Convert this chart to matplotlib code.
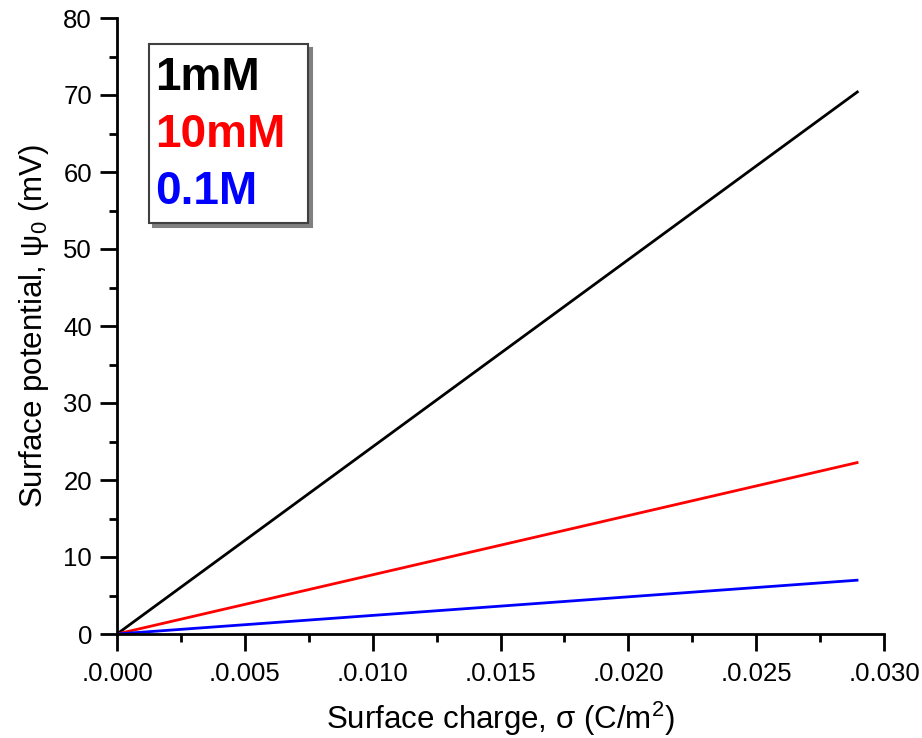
import matplotlib
matplotlib.use("Agg")
import matplotlib.pyplot as plt
from matplotlib.patches import Rectangle
from matplotlib.ticker import MultipleLocator, FuncFormatter

# surface charge (C/m^2) and resulting surface potential (mV)
sigma = [0.0, 0.029]
psi_1mM = [0.0, 70.5]
psi_10mM = [0.0, 22.3]
psi_01M = [0.0, 7.0]

labels = ["1mM", "10mM", "0.1M"]
colors = ["black", "red", "blue"]

plt.rcParams['font.family'] = ['Liberation Sans', 'DejaVu Sans']
plt.rcParams['mathtext.fontset'] = 'custom'
plt.rcParams['mathtext.rm'] = 'Liberation Sans'
plt.rcParams['mathtext.default'] = 'regular'

W, H = 922, 738
fig = plt.figure(figsize=(W / 100, H / 100), dpi=100)
ax = fig.add_axes([117 / W, 1 - 634 / H, (884 - 117) / W, (634 - 18) / H])

lines = []
for ys, c, lab in zip([psi_1mM, psi_10mM, psi_01M], colors, labels):
    ln, = ax.plot(sigma, ys, color=c, lw=2, label=lab, solid_capstyle='butt')
    lines.append(ln)

ax.set_xlim(0, 0.030)
ax.set_ylim(0, 80)
ax.xaxis.set_major_locator(MultipleLocator(0.005))
ax.xaxis.set_minor_locator(MultipleLocator(0.0025))
ax.yaxis.set_major_locator(MultipleLocator(10))
ax.yaxis.set_minor_locator(MultipleLocator(5))
ax.xaxis.set_major_formatter(FuncFormatter(lambda v, p: '.' + '%.3f' % v))

for s in ['top', 'right']:
    ax.spines[s].set_visible(False)
for s in ['left', 'bottom']:
    ax.spines[s].set_linewidth(2)

ax.tick_params(which='major', direction='out', length=12, width=2,
               labelsize=18.5, pad=6)
ax.tick_params(which='minor', direction='out', length=6, width=2)
ax.tick_params(axis='x', which='major', pad=8)

ax.set_xlabel(r'Surface charge, σ (C/m$^2$)', fontsize=22.5, labelpad=10)
ax.set_ylabel(r'Surface potential, ψ$_0$ (mV)', fontsize=22.5, labelpad=9)

# legend box with a grey drop shadow
bx, by, bw, bh = 149, 44, 159, 179
fig.patches.append(Rectangle(((bx + 4) / W, 1 - (by + bh + 4) / H), bw / W, bh / H,
                             transform=fig.transFigure, facecolor='0.5',
                             edgecolor='0.5', lw=1.5, zorder=5))
fig.patches.append(Rectangle((bx / W, 1 - (by + bh) / H), bw / W, bh / H,
                             transform=fig.transFigure, facecolor='white',
                             edgecolor='0.25', lw=1.5, zorder=6))

leg = fig.legend(handles=lines, loc='upper left',
                 bbox_to_anchor=(155 / W, 1 - 56 / H),
                 handlelength=0, handletextpad=0, labelcolor='linecolor',
                 prop={'weight': 'bold', 'size': 33}, frameon=False,
                 labelspacing=0.28, borderpad=0, borderaxespad=0)
leg.set_zorder(7)
for h in leg.legend_handles:
    h.set_visible(False)

fig.savefig('out.png', dpi=100)
